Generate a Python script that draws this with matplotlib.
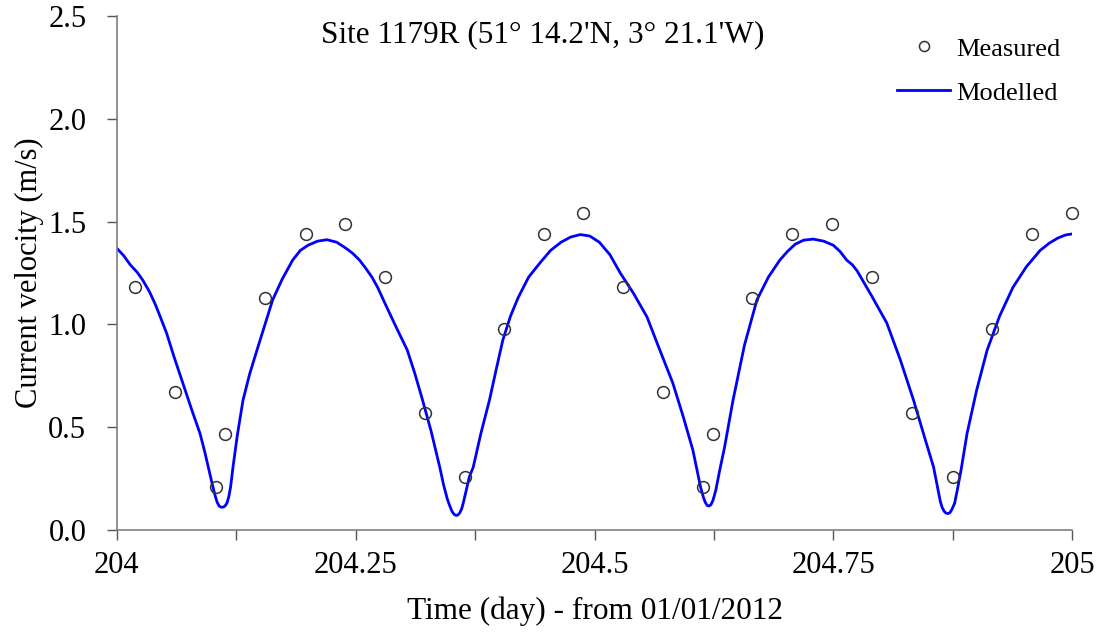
import matplotlib
matplotlib.use("Agg")
from matplotlib import pyplot as plt
from matplotlib.ticker import MultipleLocator, FixedLocator

DAY0 = 204

# measured current velocity (time offset in days from day 204, m/s)
MEAS_T = [0.0188, 0.0607, 0.1037, 0.1131, 0.155, 0.198, 0.239, 0.281, 0.3225,
          0.364, 0.405, 0.447, 0.488, 0.530, 0.572, 0.614, 0.624, 0.665, 0.707,
          0.749, 0.791, 0.832, 0.875, 0.916, 0.958, 1.0]
MEAS_V = [1.18, 0.67, 0.21, 0.47, 1.13, 1.44, 1.49, 1.23, 0.57,
          0.26, 0.98, 1.44, 1.54, 1.18, 0.67, 0.21, 0.47, 1.13, 1.44,
          1.49, 1.23, 0.57, 0.26, 0.98, 1.44, 1.54]

# modelled velocity
MOD_T = [0.000, 0.007, 0.014, 0.021, 0.027, 0.034, 0.040, 0.046, 0.052, 0.060,
         0.069, 0.078, 0.087, 0.092, 0.097, 0.100, 0.103, 0.105, 0.107, 0.109,
         0.111, 0.113, 0.115, 0.117, 0.119, 0.1215, 0.126, 0.132, 0.139, 0.1466,
         0.155, 0.163, 0.173, 0.184, 0.192, 0.200, 0.210, 0.220, 0.230, 0.240,
         0.247, 0.254, 0.261, 0.267, 0.273, 0.279, 0.291, 0.304, 0.312, 0.320,
         0.329, 0.338, 0.342, 0.346, 0.349, 0.351, 0.353, 0.355, 0.357, 0.359,
         0.361, 0.363, 0.366, 0.369, 0.373, 0.381, 0.390, 0.397, 0.404, 0.412,
         0.420, 0.431, 0.443, 0.454, 0.465, 0.475, 0.485, 0.495, 0.505, 0.516,
         0.527, 0.541, 0.555, 0.568, 0.582, 0.593, 0.603, 0.607, 0.611, 0.614,
         0.616, 0.618, 0.620, 0.622, 0.624, 0.627, 0.631, 0.636, 0.645, 0.657,
         0.670, 0.682, 0.694, 0.702, 0.710, 0.719, 0.729, 0.740, 0.750, 0.757,
         0.764, 0.770, 0.775, 0.790, 0.806, 0.820, 0.834, 0.845, 0.855, 0.859,
         0.862, 0.864, 0.866, 0.868, 0.870, 0.872, 0.874, 0.877, 0.880, 0.884,
         0.890, 0.900, 0.911, 0.924, 0.938, 0.952, 0.9665, 0.976, 0.985, 0.993,
         1.0]
MOD_V = [1.37, 1.335, 1.29, 1.255, 1.216, 1.16, 1.10, 1.03, 0.958, 0.84,
         0.715, 0.59, 0.47, 0.38, 0.28, 0.22, 0.165, 0.135, 0.118, 0.112,
         0.112, 0.117, 0.13, 0.16, 0.21, 0.306, 0.46, 0.632, 0.76, 0.875,
         1.00, 1.119, 1.22, 1.313, 1.36, 1.385, 1.405, 1.412, 1.40, 1.37,
         1.345, 1.313, 1.27, 1.23, 1.18, 1.119, 1.00, 0.875, 0.76, 0.632,
         0.48, 0.306, 0.22, 0.15, 0.112, 0.09, 0.077, 0.072, 0.074, 0.085,
         0.105, 0.14, 0.20, 0.26, 0.306, 0.47, 0.632, 0.78, 0.924, 1.04,
         1.13, 1.23, 1.30, 1.36, 1.40, 1.425, 1.437, 1.43, 1.40, 1.34,
         1.25, 1.15, 1.036, 0.88, 0.715, 0.55, 0.389, 0.30, 0.21, 0.16,
         0.135, 0.12, 0.118, 0.125, 0.145, 0.195, 0.29, 0.40, 0.632, 0.90,
         1.119, 1.23, 1.313, 1.355, 1.39, 1.41, 1.415, 1.405, 1.385, 1.355,
         1.313, 1.29, 1.26, 1.14, 1.007, 0.83, 0.632, 0.46, 0.306, 0.21,
         0.14, 0.11, 0.092, 0.083, 0.081, 0.085, 0.10, 0.131, 0.20, 0.30,
         0.47, 0.68, 0.875, 1.04, 1.18, 1.28, 1.36, 1.395, 1.42, 1.435,
         1.44]

plt.rcParams["font.family"] = ["Liberation Serif", "DejaVu Serif"]

fig = plt.figure(figsize=(11.03, 6.35), dpi=100)
ax = fig.add_axes([0.106, 0.165, 0.866, 0.810])

ax.plot([DAY0 + t for t in MEAS_T], MEAS_V, linestyle="none", marker="o",
        markersize=8.5, markerfacecolor="none", markeredgecolor="#333333",
        markeredgewidth=1.1, label="Measured", clip_on=False, zorder=3)
ax.plot([DAY0 + t for t in MOD_T], MOD_V, color="#0000ff", linewidth=2.0,
        label="Modelled", solid_joinstyle="round")

ax.set_xlim(204, 205)
ax.set_ylim(0, 2.5)
ax.xaxis.set_major_locator(FixedLocator([204, 204.25, 204.5, 204.75, 205]))
ax.set_xticklabels(["204", "204.25", "204.5", "204.75", "205"])
ax.xaxis.set_minor_locator(MultipleLocator(0.125))
yt = [0.0, 0.5, 1.0, 1.5, 2.0, 2.5]
ax.yaxis.set_major_locator(FixedLocator(yt))
ax.set_yticklabels([f"{v:.1f}" for v in yt])

for side in ["top", "right"]:
    ax.spines[side].set_visible(False)
for side in ["left", "bottom"]:
    ax.spines[side].set_color("#7f7f7f")
    ax.spines[side].set_linewidth(1.2)

ax.tick_params(which="both", direction="out", color="#555555", width=1.0,
               labelsize=22)
ax.tick_params(axis="x", which="both", length=7, pad=8)
ax.tick_params(axis="y", length=7, pad=15)

ax.set_xlabel("Time (day) - from 01/01/2012", fontsize=22.5, labelpad=12)
ax.set_ylabel("Current velocity (m/s)", fontsize=22, labelpad=3)
ax.text(204.446, 2.41, "Site 1179R (51° 14.2'N, 3° 21.1'W)",
        ha="center", va="center", fontsize=22.5)

ax.legend(loc="upper right", bbox_to_anchor=(1.013, 1.005), frameon=False,
          fontsize=19, handlelength=2.0, handletextpad=0.25, labelspacing=0.78,
          markerscale=0.85)

fig.savefig("out.png", dpi=100)
